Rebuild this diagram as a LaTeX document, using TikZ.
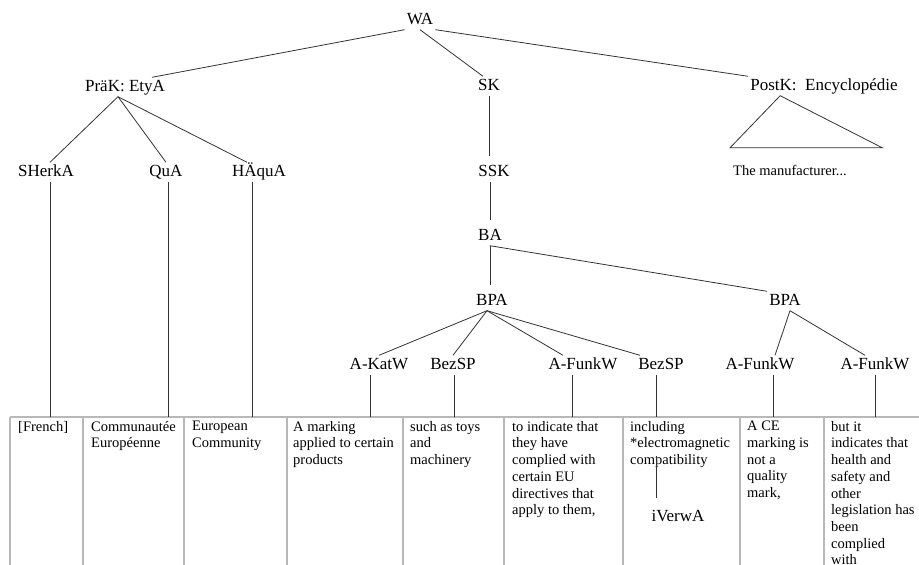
\documentclass[tikz,border=0pt]{standalone}
\usepackage{fontspec}
\setmainfont{Liberation Serif}
\usetikzlibrary{positioning}

\begin{document}
\begin{tikzpicture}[
    x=1pt, y=-1pt, % Pixelraster
    every node/.style={font=\fontsize{17}{20}\selectfont}, % Schrift der Kategorien
    kat/.style={inner sep=2pt, text height=12pt, text depth=3pt}, % Stil der Kategorien
    zelle/.style={anchor=north west, inner sep=0pt, align=left, font=\fontsize{14.5}{16.7}\selectfont}, % Stil der Tabellentexte
    ast/.style={draw=black!80, line width=0.8pt}, % Stil der Aeste
    stamm/.style={ast, shorten >=6pt}, % senkrechte Aeste
    rand/.style={draw=black!28, line width=1.3pt} % Stil der Tabellenlinien
]
\useasboundingbox (0,0) rectangle (919,565);

% Wurzel
\node[kat] (wa) at (420,20) {WA};

% Ebene 1
\node[kat] (prak) at (125,87) {PräK: EtyA};
\node[kat] (sk) at (489,86) {SK};
\node[kat] (postk) at (824,86) {PostK:\ \ Encyclopédie};

% Ebene 2
\node[kat] (sherka) at (46,172) {SHerkA};
\node[kat] (qua) at (166,172) {QuA};
\node[kat] (haqua) at (259,172) {HÄquA};
\node[kat] (ssk) at (494,172) {SSK};
\node[font=\fontsize{14.5}{16.7}\selectfont] (manuf) at (790,170) {The manufacturer...};

% BA und BPA
\node[kat] (ba) at (490,236) {BA};
\node[kat] (bpal) at (492,301) {BPA};
\node[kat] (bpar) at (785,301) {BPA};

% Blaetter
\node[kat] (katw) at (379,365) {A-KatW};
\node[kat] (bezl) at (453,365) {BezSP};
\node[kat] (funka) at (583,365) {A-FunkW};
\node[kat] (bezr) at (661,365) {BezSP};
\node[kat] (funkb) at (760,365) {A-FunkW};
\node[kat] (funkc) at (875,365) {A-FunkW};

% Tabelle
\draw[rand] (10,417) -- (919,417);
\foreach \x in {10,83,184,287,403,504,623,740,824}
    \draw[rand] (\x,417) -- (\x,565);

\node[zelle] (z1) at (18,421) {[French]};
\node[zelle] (z2) at (91,421) {Communautée\\Européenne};
\node[zelle] (z3) at (192,421) {European\\Community};
\node[zelle] (z4) at (293,421) {A marking\\applied to certain\\products};
\node[zelle] (z5) at (410,421) {such as toys\\and\\machinery};
\node[zelle] (z6) at (512,421) {to indicate that\\they have\\complied with\\certain EU\\directives that\\apply to them,};
\node[zelle] (z7) at (630,421) {including\\*electromagnetic\\compatibility};
\node[zelle] (z8) at (747,421) {A CE\\marking is\\not a\\quality\\mark,};
\node[zelle] (z9) at (831,421) {but it\\indicates that\\health and\\safety and\\other\\legislation has\\been\\complied\\with};

\node[kat] (iverw) at (678,517) {iVerwA};

% Andockpunkte an der Tabelle
\coordinate (t1) at (50,417);
\coordinate (t2) at (168,417);
\coordinate (t3) at (252,417);
\coordinate (t4) at (370,417);
\coordinate (t5) at (454,417);
\coordinate (t6) at (572,417);
\coordinate (t7) at (656,417);
\coordinate (t8) at (773,417);
\coordinate (t9) at (875,417);
\coordinate (ivtop) at (656,456);

% Aeste von WA
\draw[ast] (wa.south west) -- ([xshift=27pt]prak.north);
\draw[ast] (wa.south) -- ([xshift=-6pt]sk.north);
\draw[ast] (wa.south east) -- (postk.north west);

% Aeste von PraeK
\draw[ast] ([xshift=-7pt]prak.south) -- ([xshift=4pt]sherka.north);
\draw[ast] ([xshift=-7pt]prak.south) -- (qua.north);
\draw[ast] ([xshift=-7pt]prak.south) -- ([xshift=-12pt]haqua.north);

% Dreieck unter PostK
\coordinate (apex) at ([xshift=32pt]postk.south west);
\draw[ast] (apex) -- ++(-50,52) -- ++(152,0) -- cycle;

% Stamm
\draw[stamm] (sk.south) -- (sk.south |- ssk.north);
\draw[stamm] (ssk.south -| ba.north) -- (ba.north);
\draw[stamm] (ba.south) -- (ba.south |- bpal.north);
\draw[ast] (ba.south) -- (bpar.north west);

% Aeste von BPA
\draw[ast] ([xshift=-5pt]bpal.south) -- (katw.north);
\draw[ast] ([xshift=-5pt]bpal.south) -- (bezl.north);
\draw[ast] ([xshift=-5pt]bpal.south) -- ([xshift=-20pt]funka.north);
\draw[ast] ([xshift=-5pt]bpal.south) -- ([xshift=-21pt]bezr.north);
\draw[ast] ([xshift=5pt]bpar.south) -- ([xshift=15pt]funkb.north);
\draw[ast] ([xshift=5pt]bpar.south) -- ([xshift=-10pt]funkc.north);

% Linien zur Tabelle
\draw[ast] (sherka.south -| t1) -- (t1);
\draw[ast] (qua.south -| t2) -- (t2);
\draw[ast] (haqua.south -| t3) -- (t3);
\draw[ast] (katw.south -| t4) -- (t4);
\draw[ast] (bezl.south -| t5) -- (t5);
\draw[ast] (funka.south -| t6) -- (t6);
\draw[ast] (bezr.south -| t7) -- (t7);
\draw[ast] (funkb.south -| t8) -- (t8);
\draw[ast] (funkc.south -| t9) -- (t9);
\draw[ast, shorten >=9pt] (ivtop) -- (ivtop |- iverw.north);

\end{tikzpicture}
\end{document}
